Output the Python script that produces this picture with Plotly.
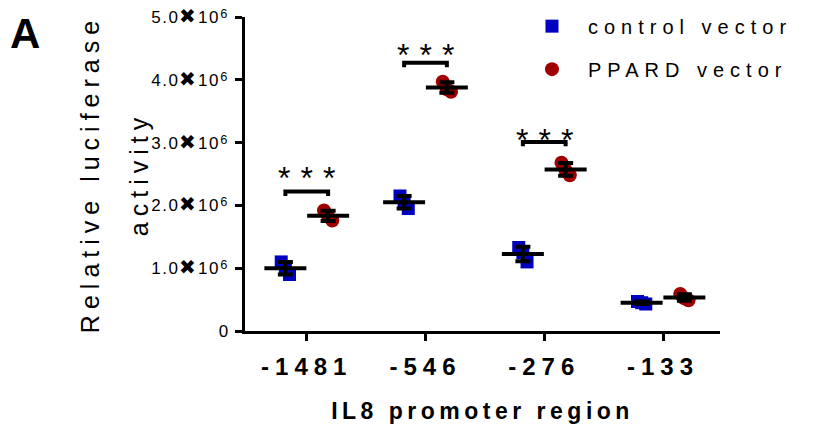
import numpy as np
import plotly.graph_objects as go

# ---------------- data ----------------
regions = ["-1481", "-546", "-276", "-133"]
control_vals = [
    [1.10e6, 0.90e6, 1.00e6],
    [2.15e6, 1.95e6, 2.05e6],
    [1.33e6, 1.10e6, 1.25e6],
    [0.47e6, 0.43e6, 0.45e6],
]
ppard_vals = [
    [1.92e6, 1.76e6, 1.82e6],
    [3.97e6, 3.81e6, 3.85e6],
    [2.68e6, 2.48e6, 2.56e6],
    [0.59e6, 0.49e6, 0.52e6],
]
sig_text = ["***", "***", "***", ""]
sig_bracket_y = [2.22e6, 4.27e6, 3.01e6, None]
sig_star_y = [2.52e6, 4.47e6, 3.12e6, None]
y_tickvals = [0, 1e6, 2e6, 3e6, 4e6, 5e6]
y_ticktext = ["0"] + [f"{v}<span style='font-size:20px'>✖</span>10<span style='font-size:20px'>⁶</span>"
                      for v in ["1.0", "2.0", "3.0", "4.0", "5.0"]]

# ---------------- style ----------------
FONT = "Liberation Sans, Arial, Helvetica, sans-serif"
BLUE = "#0000c0"
RED = "#a00000"
OFF = 0.18
JIT = [-0.035, 0.035, 0.0]

idx = np.arange(len(regions))
cx = np.concatenate([[i - OFF + j for j in JIT] for i in idx])
px_ = np.concatenate([[i + OFF + j for j in JIT] for i in idx])
cy = np.concatenate(control_vals)
py = np.concatenate(ppard_vals)
c_mean = np.array([np.mean(v) for v in control_vals])
p_mean = np.array([np.mean(v) for v in ppard_vals])
c_sd = np.array([np.std(v, ddof=1) for v in control_vals])
p_sd = np.array([np.std(v, ddof=1) for v in ppard_vals])

fig = go.Figure()
fig.add_trace(go.Scatter(
    x=cx, y=cy, mode="markers", name="control vector", legendgroup="c",
    marker=dict(symbol="square", size=13, color=BLUE, line=dict(width=0)),
))
fig.add_trace(go.Scatter(
    x=px_, y=py, mode="markers", name="PPARD vector", legendgroup="p",
    marker=dict(symbol="circle", size=14, color=RED, line=dict(width=0)),
))
for xm, ym, sd in [(idx - OFF, c_mean, c_sd), (idx + OFF, p_mean, p_sd)]:
    fig.add_trace(go.Scatter(
        x=xm, y=ym, mode="markers", showlegend=False, hoverinfo="skip",
        marker=dict(symbol="line-ew", size=30, color="black",
                    line=dict(width=4, color="black")),
        error_y=dict(type="data", array=sd, visible=True, color="black",
                     thickness=4, width=7.5),
    ))

shapes = []
annotations = []
for i, (t, by, sy) in enumerate(zip(sig_text, sig_bracket_y, sig_star_y)):
    if not t:
        continue
    h = 0.07e6
    shapes.append(dict(
        type="path", xref="x", yref="y",
        path=f"M {i - OFF},{by - h} L {i - OFF},{by} L {i + OFF},{by} L {i + OFF},{by - h}",
        line=dict(color="black", width=4),
    ))
    annotations.append(dict(
        x=i, y=sy, xref="x", yref="y", text=t, showarrow=False,
        yanchor="middle", xanchor="center", xshift=5, yshift=-5,
        font=dict(family=FONT, size=32, color="black"),
    ))
annotations.append(dict(
    x=-0.488, y=1.029, xref="paper", yref="paper", text="<b>A</b>", showarrow=False,
    xanchor="left", yanchor="top", font=dict(family=FONT, size=42, color="black"),
))

fig.update_layout(
    template="none",
    width=816, height=426,
    margin=dict(l=245, r=96, t=17, b=95, autoexpand=False),
    paper_bgcolor="white", plot_bgcolor="white",
    font=dict(family=FONT, color="black"),
    shapes=shapes, annotations=annotations,
    legend=dict(x=0.5705, y=1.033, xanchor="left", yanchor="top",
                font=dict(family=FONT, size=20, color="black"),
                itemwidth=62, traceorder="grouped", tracegroupgap=14,
                bgcolor="rgba(0,0,0,0)", borderwidth=0),
    xaxis=dict(
        automargin=False,
        range=[-0.52, 3.48], tickvals=list(idx), ticktext=regions,
        showgrid=False, zeroline=False, showline=True, linewidth=3, linecolor="black",
        ticks="outside", ticklen=7, tickwidth=3, tickcolor="black",
        tickfont=dict(family=FONT, size=24, weight="bold", color="black"), ticklabelstandoff=5,
        title=dict(text="IL8 promoter region",
                   font=dict(family=FONT, size=23, weight="bold", color="black"),
                   standoff=25),
    ),
    yaxis=dict(
        automargin=False,
        range=[0, 5e6], tickvals=y_tickvals, ticktext=y_ticktext,
        showgrid=False, zeroline=False, showline=True, linewidth=3, linecolor="black",
        ticks="outside", ticklen=7, tickwidth=3, tickcolor="black",
        tickfont=dict(family=FONT, size=17, color="black"), ticklabelstandoff=2,
        title=dict(text="Relative luciferase<br>activity",
                   font=dict(family=FONT, size=25, color="black"),
                   standoff=23),
    ),
)

post = """
var gd = document.getElementById('{plot_id}');
function fixText(){
  function ls(sel, v){ gd.querySelectorAll(sel).forEach(function(t){ t.style.letterSpacing = v; }); }
  ls('.ytick text', '1.5px');
  ls('.xtick text', '6px');
  ls('.g-xtitle text', '4.5px');
  ls('.g-ytitle text', '6px');
  ls('.legendtext', '6px');
  ls('.annotation-text', '10px');
  gd.querySelectorAll('.legend .scrollbox, .legend').forEach(function(e){ e.removeAttribute('clip-path'); e.style.clipPath = 'none'; });
  var lines = gd.querySelectorAll('.g-ytitle tspan.line');
  if (lines.length > 1) { lines[1].setAttribute('dy', '1.95em'); }
}
fixText();
gd.on('plotly_afterplot', fixText);
"""
fig.write_html("out.html", post_script=post)
